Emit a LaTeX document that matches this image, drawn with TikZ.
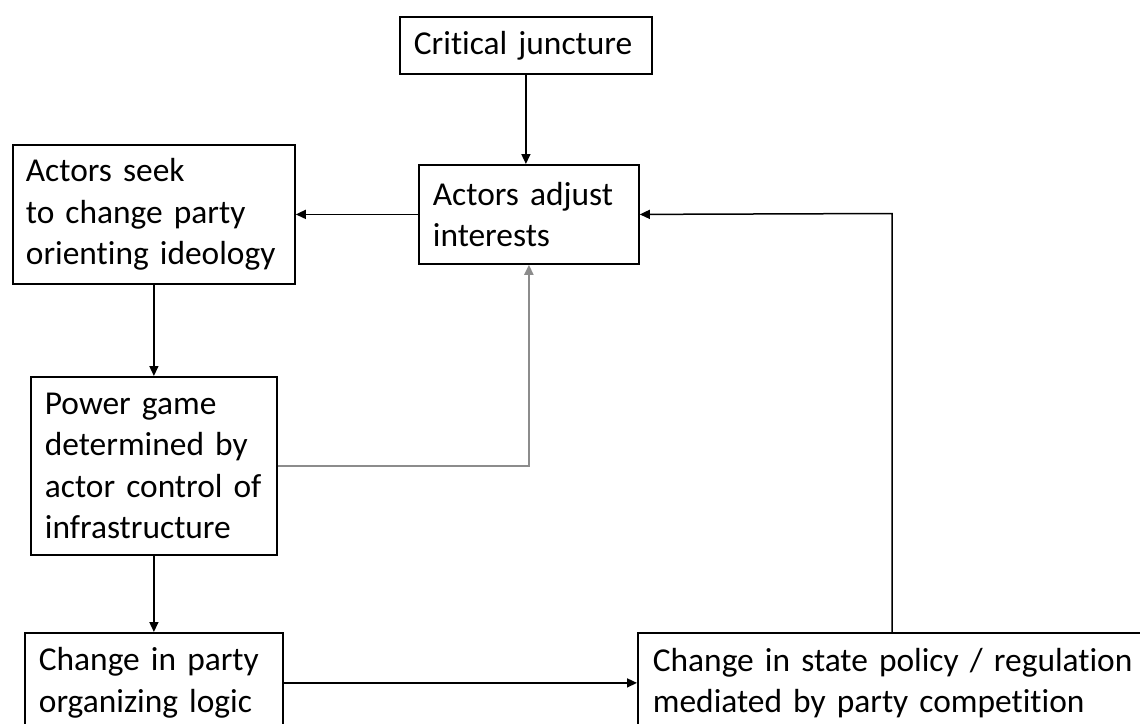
\documentclass[tikz,border=0pt]{standalone}
\usepackage{fontspec}
\setmainfont{Carlito}[Ligatures=NoCommon]
\usetikzlibrary{arrows.meta}
\tikzset{
	stagebox/.style={draw, line width=0.9pt, anchor=north west, align=left,
		inner xsep=7pt, inner ysep=0pt, font=\fontsize{16.7}{20.75}\selectfont},
	arrowline/.style={line width=0.75pt, -{Triangle[length=5pt,width=4.5pt]}},
}
\begin{document}
\begin{tikzpicture}[x=0.5pt,y=-0.5pt]
		\useasboundingbox (0,0) rectangle (1140,723);
		\clip (0,0) rectangle (1140,723);
		% stage boxes
		\node[stagebox, text width=112pt, minimum height=28.5pt] (crit) at (399,16) {Critical juncture};
		\node[stagebox, text width=96pt, minimum height=49.5pt] (adjust) at (418,164) {Actors adjust\\interests};
		\node[stagebox, inner xsep=6.5pt, text width=128pt, minimum height=69.5pt] (seek) at (12,144) {Actors seek\\to change party\\orienting ideology};
		\node[stagebox, text width=109pt, minimum height=89pt] (power) at (30,376) {Power game\\determined by\\actor control of\\infrastructure};
		\node[stagebox, text width=115pt, minimum height=50pt] (party) at (24,632) {Change in party\\organizing logic};
		\node[stagebox, inner xsep=7.5pt, text width=246.5pt, minimum height=50pt] (state) at (637,632) {Change in state policy / regulation\\mediated by party competition};
		% arrows
		\draw[arrowline] (crit.south) -- (crit.south |- adjust.north);
		\draw[arrowline] (adjust.west) -- (adjust.west -| seek.east);
		\draw[arrowline] (seek.south) -- (power.north);
		\draw[arrowline] (power.south) -- (party.north);
		\draw[arrowline] (party.east) -- (party.east -| state.west);
		% feedback loops
		\coordinate (loop) at (892,213.5);
		\draw[arrowline] (loop |- state.north) -- (loop) -- (adjust.east);
		\draw[arrowline, gray!90, line width=1.1pt] (power.east) -| (adjust.south);
	\end{tikzpicture}
\end{document}
